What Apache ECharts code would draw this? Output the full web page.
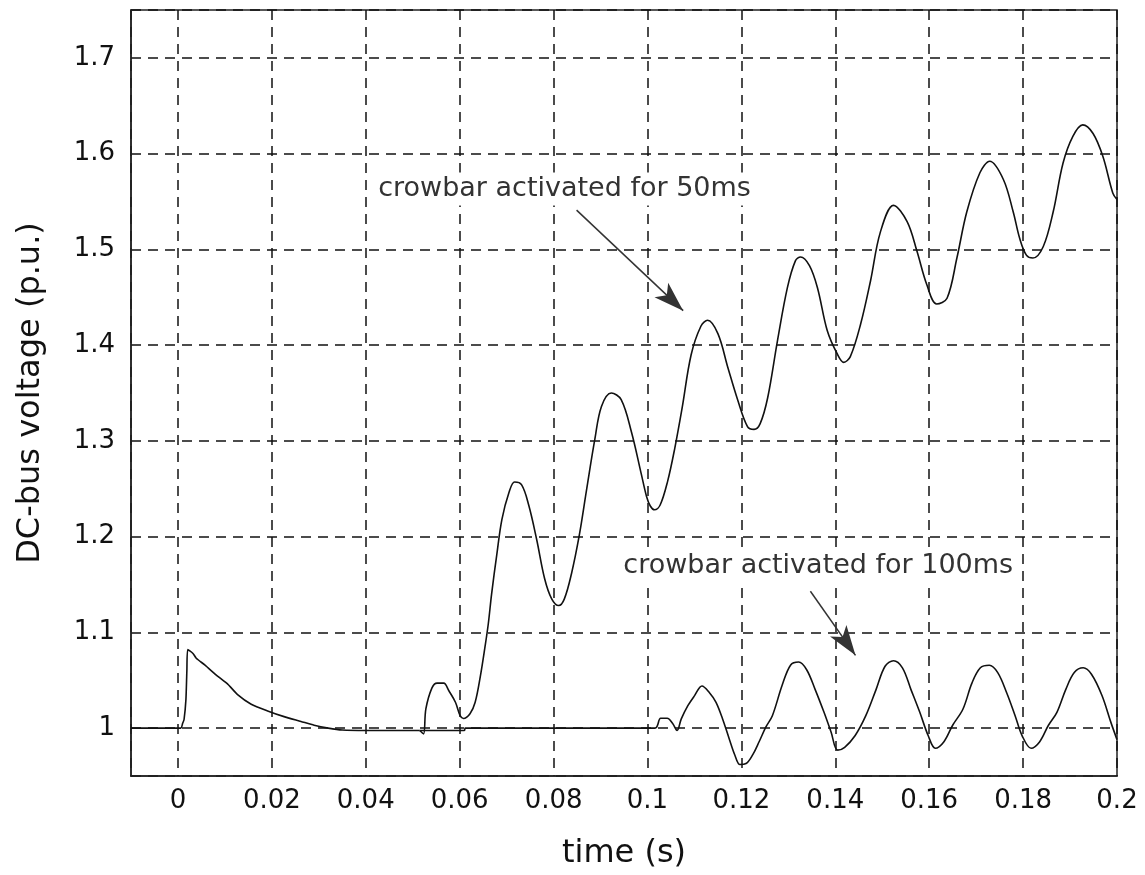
<!DOCTYPE html>
<html>
<head>
<meta charset="utf-8">
<script src="https://cdn.jsdelivr.net/npm/echarts@6/dist/echarts.min.js"></script>
<style>
  html, body { margin: 0; padding: 0; background: #fff; }
  #chart { width: 1145px; height: 875px; }
</style>
</head>
<body>
<div id="chart"></div>
<script>
// DC-bus voltage after the fault: common transient, then two crowbar durations
const transient = [
  [-0.01, 1.0], [0.0006, 1.0], [0.0010, 1.005], [0.0013, 1.009], [0.0017, 1.03],
  [0.0019, 1.06], [0.0021, 1.082], [0.0032, 1.078], [0.0039, 1.073], [0.0057, 1.066],
  [0.0085, 1.054], [0.0106, 1.046], [0.0127, 1.035], [0.0156, 1.025], [0.0191, 1.018],
  [0.0226, 1.012], [0.0262, 1.007], [0.029, 1.003], [0.032, 1.0], [0.035, 0.998],
  [0.040, 0.9975], [0.045, 0.9975], [0.0515, 0.9975]
];

const crowbar50ms = [
  [0.0515, 0.9975], [0.0523, 0.994], [0.0528, 1.02], [0.0541, 1.042], [0.0552, 1.047],
  [0.0566, 1.047], [0.0577, 1.039], [0.0591, 1.027], [0.0601, 1.013], [0.0608, 1.010],
  [0.0622, 1.015], [0.0633, 1.027], [0.0644, 1.054], [0.0654, 1.085], [0.0661, 1.109],
  [0.0668, 1.140], [0.0679, 1.181], [0.069, 1.218], [0.0705, 1.246], [0.0717, 1.257],
  [0.0732, 1.254], [0.0747, 1.233], [0.0764, 1.197], [0.0781, 1.156], [0.0796, 1.135],
  [0.0811, 1.128], [0.0823, 1.135], [0.0838, 1.161], [0.0855, 1.202], [0.087, 1.248],
  [0.0888, 1.302], [0.0902, 1.336], [0.0923, 1.350], [0.0944, 1.343], [0.0966, 1.309],
  [0.0987, 1.265], [0.0998, 1.242], [0.1006, 1.232], [0.1015, 1.228], [0.1027, 1.233],
  [0.1043, 1.258], [0.1058, 1.292], [0.1074, 1.335], [0.1093, 1.39], [0.1114, 1.420],
  [0.1128, 1.426], [0.115, 1.412], [0.1171, 1.377], [0.1192, 1.343], [0.1213, 1.315],
  [0.1227, 1.312], [0.124, 1.318], [0.1256, 1.345], [0.1277, 1.405], [0.1298, 1.46],
  [0.1315, 1.488], [0.1326, 1.492], [0.1345, 1.483], [0.1362, 1.460], [0.1383, 1.415],
  [0.1404, 1.391], [0.1418, 1.382], [0.1432, 1.388], [0.1454, 1.422], [0.1475, 1.467],
  [0.1496, 1.518], [0.1524, 1.546], [0.1553, 1.529], [0.1574, 1.498], [0.1595, 1.463],
  [0.1616, 1.443], [0.1638, 1.449], [0.1659, 1.491], [0.168, 1.539], [0.1708, 1.58],
  [0.1729, 1.592], [0.1758, 1.573], [0.1779, 1.539], [0.1793, 1.511], [0.1807, 1.494],
  [0.1821, 1.491], [0.1843, 1.503], [0.1864, 1.539], [0.1885, 1.59], [0.1906, 1.618],
  [0.1927, 1.63], [0.1949, 1.621], [0.197, 1.597], [0.1991, 1.559], [0.2, 1.552]
];

const crowbar100ms = [
  [0.0515, 0.9975], [0.061, 0.9975], [0.0612, 1.0], [0.1016, 1.0], [0.1028, 1.0103],
  [0.1042, 1.0103], [0.1054, 1.0045], [0.1063, 0.9976], [0.1072, 1.0096], [0.1086, 1.0234],
  [0.11, 1.0337], [0.1116, 1.044], [0.1132, 1.037], [0.1146, 1.027], [0.116, 1.0096],
  [0.1174, 0.989], [0.1186, 0.972], [0.1197, 0.962], [0.121, 0.963], [0.1224, 0.972],
  [0.1238, 0.986], [0.1252, 1.001], [0.1266, 1.013], [0.1287, 1.045], [0.1305, 1.066],
  [0.1322, 1.069], [0.1339, 1.061], [0.1357, 1.0405], [0.1376, 1.0165], [0.1391, 0.996],
  [0.1405, 0.977], [0.142, 0.98], [0.1442, 0.992], [0.1465, 1.013], [0.1487, 1.0405],
  [0.1506, 1.0646], [0.1524, 1.0704], [0.1543, 1.063], [0.1561, 1.0405], [0.158, 1.0165],
  [0.1598, 0.992], [0.1613, 0.979], [0.1631, 0.9856], [0.165, 1.003], [0.1672, 1.02],
  [0.1691, 1.047], [0.1709, 1.063], [0.1728, 1.0657], [0.1746, 1.058], [0.1765, 1.037],
  [0.1783, 1.013], [0.1798, 0.992], [0.1817, 0.979], [0.1835, 0.9856], [0.1854, 1.003],
  [0.1872, 1.0165], [0.1891, 1.0405], [0.1909, 1.058], [0.1928, 1.063], [0.1946, 1.056],
  [0.1968, 1.034], [0.1987, 1.006], [0.2, 0.988]
];

// Annotation text anchors and arrow endpoints, in (time, voltage) coordinates
const noteTexts = ['crowbar activated for 50ms', 'crowbar activated for 100ms'];
const noteAnchors = [[0.0418, 1.563], [0.094, 1.169]];
const arrowFrom = [[0.0849, 1.541], [0.1347, 1.143]];
const arrowTo = [[0.1076, 1.436], [0.1443, 1.076]];

const X_MIN = -0.01, X_MAX = 0.2, X_STEP = 0.02;
const Y_MIN = 0.95, Y_MAX = 1.75, Y_STEP = 0.1;

const FONT = 'DejaVu Sans';
const INK = '#111';

function onStep(v, step) {
  return Math.abs(v / step - Math.round(v / step)) < 1e-6;
}

const chart = echarts.init(document.getElementById('chart'), null, { renderer: 'canvas' });

const traceStyle = { color: INK, width: 1.6 };
const gridDash = { color: '#111', width: 1.5, type: [10, 7] };

chart.setOption({
  animation: false,
  backgroundColor: '#fff',
  grid: {
    left: 131, right: 28, top: 10, bottom: 91,
    show: true, borderColor: '#222', borderWidth: 1.5, backgroundColor: 'transparent'
  },
  xAxis: {
    type: 'value', min: X_MIN, max: X_MAX, splitNumber: 10,
    name: 'time (s)', nameLocation: 'middle', nameGap: 62,
    nameTextStyle: { fontFamily: FONT, fontSize: 32, color: INK },
    axisLine: { show: true, onZero: false, lineStyle: { color: '#222', width: 1.5 } },
    axisTick: { show: false },
    axisLabel: {
      fontFamily: FONT, fontSize: 26, color: INK, margin: 12,
      formatter: v => onStep(v, X_STEP) ? String(+v.toFixed(2)) : ''
    },
    splitLine: { show: true, lineStyle: gridDash }
  },
  yAxis: {
    type: 'value', min: Y_MIN, max: Y_MAX, splitNumber: 8,
    name: 'DC-bus voltage (p.u.)', nameLocation: 'middle', nameGap: 84, nameRotate: 90,
    nameTextStyle: { fontFamily: FONT, fontSize: 32, color: INK },
    axisLine: { show: true, onZero: false, lineStyle: { color: '#222', width: 1.5 } },
    axisTick: { show: false },
    axisLabel: {
      fontFamily: FONT, fontSize: 26, color: INK, margin: 16,
      formatter: v => onStep(v, Y_STEP) ? String(+v.toFixed(1)) : ''
    },
    splitLine: { show: true, lineStyle: gridDash }
  },
  series: [
    {
      name: 'transient', type: 'line', data: transient, showSymbol: false,
      lineStyle: traceStyle, smooth: 0.2, z: 5
    },
    {
      name: 'crowbar 50ms', type: 'line', data: crowbar50ms, showSymbol: false,
      lineStyle: traceStyle, smooth: 0.35, z: 5,
      markLine: {
        silent: true, symbol: ['none', 'arrow'], symbolSize: [15, 30],
        label: { show: false },
        lineStyle: { color: '#333', width: 1.5, type: 'solid' },
        data: arrowFrom.map((p, i) => [{ coord: p }, { coord: arrowTo[i] }])
      }
    },
    {
      name: 'crowbar 100ms', type: 'line', data: crowbar100ms, showSymbol: false,
      lineStyle: traceStyle, smooth: 0.35, z: 5
    }
  ]
});

// Annotation labels sit on a white box over the grid
const labels = noteTexts.map((t, i) => {
  const p = chart.convertToPixel({ gridIndex: 0 }, noteAnchors[i]);
  return {
    type: 'text', x: p[0], y: p[1], z: 50,
    style: {
      text: t, fill: '#333', fontFamily: FONT, fontSize: 27,
      textAlign: 'left', textVerticalAlign: 'middle',
      backgroundColor: '#fff', padding: [3, 4]
    }
  };
});
chart.setOption({ graphic: labels });
</script>
</body>
</html>
